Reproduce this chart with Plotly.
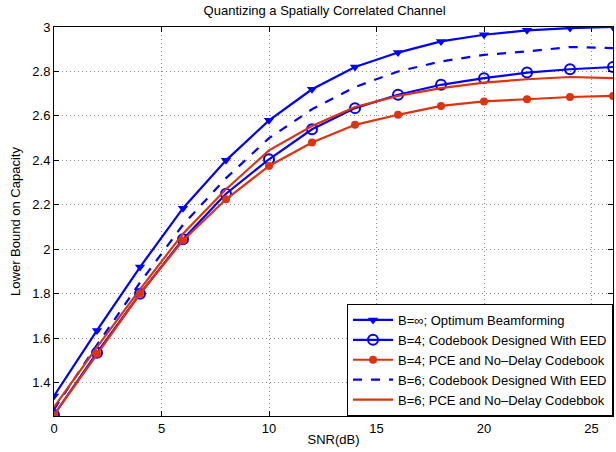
import plotly.graph_objects as go

snr = [0, 2, 4, 6, 8, 10, 12, 14, 16, 18, 20, 22, 24, 26]
opt_inf = [1.34, 1.635, 1.92, 2.185, 2.40, 2.58, 2.72, 2.82, 2.885, 2.935, 2.965, 2.985, 2.995, 3.0]
b4_eed = [1.255, 1.535, 1.80, 2.045, 2.25, 2.405, 2.54, 2.635, 2.695, 2.74, 2.77, 2.795, 2.81, 2.82]
b4_pce = [1.255, 1.53, 1.80, 2.04, 2.225, 2.375, 2.48, 2.56, 2.605, 2.645, 2.665, 2.675, 2.685, 2.69]
b6_eed = [1.28, 1.57, 1.85, 2.11, 2.32, 2.50, 2.63, 2.73, 2.80, 2.845, 2.875, 2.89, 2.91, 2.905]
b6_pce = [1.29, 1.56, 1.82, 2.07, 2.27, 2.445, 2.555, 2.64, 2.69, 2.725, 2.75, 2.765, 2.775, 2.77]
x_ticks = [0, 5, 10, 15, 20, 25]
y_ticks = [1.4, 1.6, 1.8, 2, 2.2, 2.4, 2.6, 2.8, 3]
y_ticklabels = ["1.4", "1.6", "1.8", "2", "2.2", "2.4", "2.6", "2.8", "3"]

BLUE = "#0000ff"
RED = "#dd3311"

fig = go.Figure()
fig.add_trace(go.Scatter(x=snr, y=opt_inf, mode="lines+markers", name="B=∞; Optimum Beamforming",
                         line=dict(color=BLUE, width=2.2),
                         marker=dict(symbol="triangle-down", size=9, color=BLUE)))
fig.add_trace(go.Scatter(x=snr, y=b4_eed, mode="lines+markers", name="B=4; Codebook Designed With EED",
                         line=dict(color=BLUE, width=2.2),
                         marker=dict(symbol="circle-open", size=10, color=BLUE, line=dict(width=2, color=BLUE))))
fig.add_trace(go.Scatter(x=snr, y=b4_pce, mode="lines+markers", name="B=4; PCE and No\u2013Delay Codebook",
                         line=dict(color=RED, width=2.2),
                         marker=dict(symbol="circle", size=8, color=RED)))
fig.add_trace(go.Scatter(x=snr, y=b6_eed, mode="lines", name="B=6; Codebook Designed With EED",
                         line=dict(color=BLUE, width=2.2, dash="dash")))
fig.add_trace(go.Scatter(x=snr, y=b6_pce, mode="lines", name="B=6; PCE and No\u2013Delay Codebbok",
                         line=dict(color=RED, width=2.2)))

axis_common = dict(showline=True, linecolor="black", linewidth=1, mirror="ticks", ticks="inside",
                   ticklen=5, tickcolor="black", showgrid=True, gridcolor="#8a8a8a", griddash="1px,3px",
                   gridwidth=1, zeroline=False, tickfont=dict(size=13, color="black"))

fig.update_layout(
    width=616, height=452,
    paper_bgcolor="white", plot_bgcolor="white",
    font=dict(family="Liberation Sans, Arial, sans-serif", size=13, color="black"),
    margin=dict(l=54, r=3, t=27, b=36),
    title=dict(text="Quantizing a Spatially Correlated Channel", x=0.527, xanchor="center",
               y=0.988, yanchor="top", font=dict(size=13)),
    xaxis=dict(range=[0, 26], tickvals=x_ticks,
               title=dict(text="SNR(dB)", standoff=0, font=dict(size=13)), **axis_common),
    yaxis=dict(range=[1.25, 3], tickvals=y_ticks, ticktext=y_ticklabels,
               title=dict(text="Lower Bound on Capacity", standoff=8, font=dict(size=13)), **axis_common),
    legend=dict(x=1, y=0, xanchor="right", yanchor="bottom", bgcolor="white",
                bordercolor="black", borderwidth=1, font=dict(size=13),
                tracegroupgap=0, itemwidth=40),
    showlegend=True,
)

fig.write_html("out.html", config={"displayModeBar": False},
               post_script="document.body.style.margin='0px';")
